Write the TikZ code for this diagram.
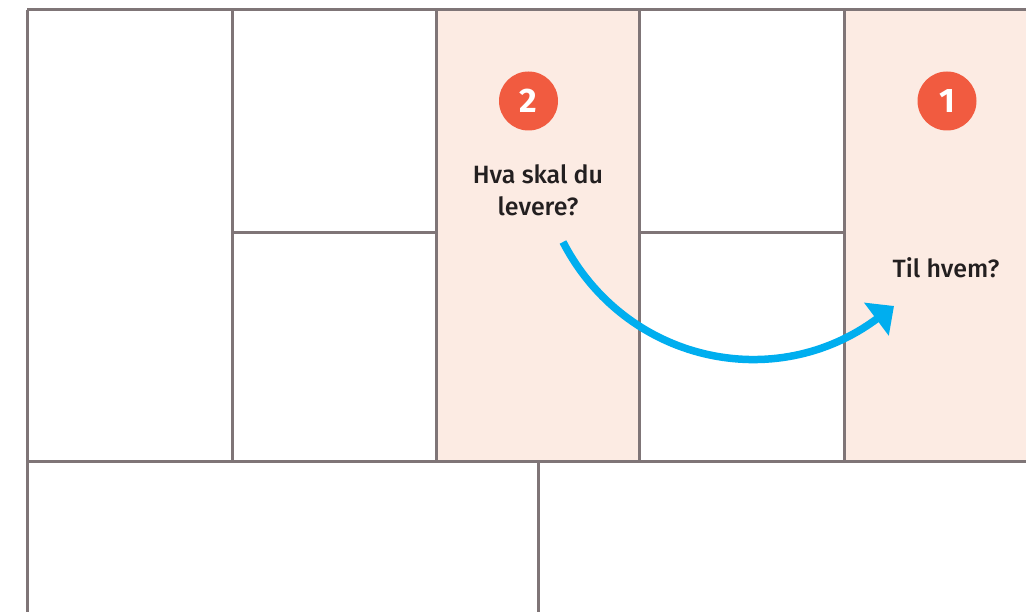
\documentclass[tikz,border=0pt]{standalone}
\usepackage{fontspec}
\setmainfont{Fira Sans}
\IfFontExistsTF{Fira Sans Medium}{\newfontfamily\labfont{Fira Sans Medium}}{\newfontfamily\labfont[FakeBold=0.5]{Fira Sans}}
\IfFontExistsTF{Fira Sans Heavy}{\newfontfamily\numfont{Fira Sans Heavy}}{\newfontfamily\numfont{Fira Sans Bold}}
\usetikzlibrary{arrows.meta}
\definecolor{gridc}{HTML}{7F7577}
\definecolor{pinkc}{HTML}{FCEBE3}
\definecolor{redc}{HTML}{F15B40}
\definecolor{bluec}{HTML}{00AEEF}
\definecolor{textc}{HTML}{231F20}
\tikzset{
  gridline/.style={draw=gridc,line width=3pt},
  numdot/.style={circle,fill=redc,minimum size=59pt,inner sep=0pt,text=white,font=\numfont\fontsize{34}{34}\selectfont},
  lbl/.style={text=textc,font=\labfont\fontsize{25}{32}\selectfont,align=center,inner sep=0pt},
  flow/.style={draw=bluec,line width=7.5pt,-{Triangle[length=22pt,width=40pt]}}
}
\begin{document}
\begin{tikzpicture}[x=1pt,y=-1pt]
\useasboundingbox (0,0) rectangle (1026,612);
\clip (0,0) rectangle (1026,612);
\fill[white] (0,0) rectangle (1026,612);
% pink columns
\fill[pinkc] (436,10) rectangle (639,461);
\fill[pinkc] (844,10) rectangle (1040,461);
% grid
\draw[gridline] (27,10) -- (1040,10);
\draw[gridline] (27,461) -- (1040,461);
\draw[gridline] (232,233) -- (436,233);
\draw[gridline] (639,233) -- (844,233);
\draw[gridline] (27,10) -- (27,620);
\draw[gridline] (232,10) -- (232,461);
\draw[gridline] (436,10) -- (436,461);
\draw[gridline] (639,10) -- (639,461);
\draw[gridline] (844,10) -- (844,461);
\draw[gridline] (538,461) -- (538,620);
% badges
\node[numdot] (n2) at (528.5,101) {2};
\node[numdot] (n1) at (947,101) {1};
% labels
\node[lbl,anchor=base] (l2) at (538,216) {Hva skal du\\levere?};
\node[lbl,anchor=base] (l1) at (946,278) {Til hvem?};
% arrow
\coordinate (s) at (563,242);
\coordinate (e) at (894,306);
\draw[flow] (s) .. controls (625,362) and (775,395) .. (e);
\end{tikzpicture}
\end{document}
